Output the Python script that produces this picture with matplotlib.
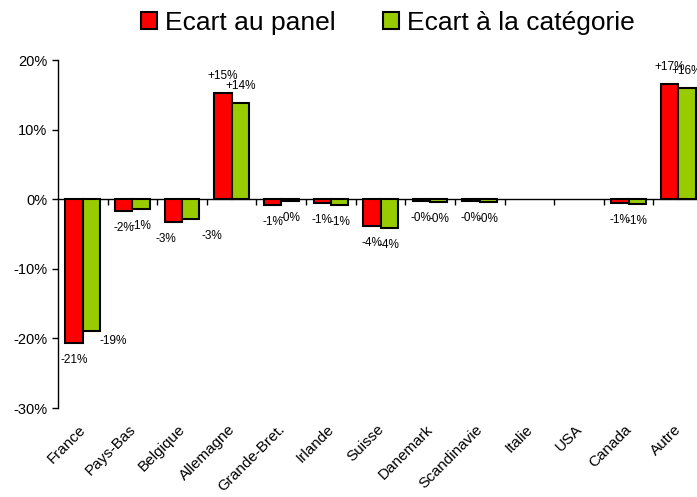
import numpy as np
import matplotlib
matplotlib.use("Agg")
import matplotlib.pyplot as plt
from matplotlib.ticker import FuncFormatter

plt.rcParams['font.family'] = ['Liberation Sans', 'DejaVu Sans']

# data (percent)
countries = ["France", "Pays-Bas", "Belgique", "Allemagne", "Grande-Bret.", "Irlande",
             "Suisse", "Danemark", "Scandinavie", "Italie", "USA", "Canada", "Autre"]
ecart_panel = [-20.7, -1.7, -3.3, 15.2, -0.8, -0.6, -3.8, -0.3, -0.3, np.nan, np.nan, -0.6, 16.6]
ecart_categorie = [-19.0, -1.4, -2.9, 13.8, -0.3, -0.8, -4.1, -0.4, -0.4, np.nan, np.nan, -0.7, 16.0]
series_names = ["Ecart au panel", "Ecart à la catégorie"]

RED = "#FF0000"
GREEN = "#99CC00"

# a few labels sit oddly in the original (pixel nudges)
label_nudge = {("France", 1): (22, 7), ("Belgique", 0): (-7, 0), ("Belgique", 1): (21, 0)}

fig = plt.figure(figsize=(6.97, 4.97), dpi=100)
ax = fig.add_axes([58 / 697, 1 - 408 / 497, 645 / 697, 348 / 497])

x = np.arange(len(countries))
w = 0.35
series = [ecart_panel, ecart_categorie]
colors = [RED, GREEN]
for k, (vals, col, name) in enumerate(zip(series, colors, series_names)):
    xs = x + (k - 0.5) * w
    ax.bar(xs, vals, width=w, color=col, edgecolor="black", linewidth=1.5, label=name, zorder=3)
    for i, v in enumerate(vals):
        if np.isnan(v):
            continue
        dx, dy = label_nudge.get((countries[i], k), (0, 0))
        off = 17 if v > 0 else -17
        ax.annotate(f"{v:+.0f}%", (xs[i], v), xytext=(dx * 0.72, (off + dy) * 0.72),
                    textcoords="offset points", ha="center", va="center", fontsize=8.5, zorder=4)

ax.set_xlim(-0.5, len(countries) - 0.5)
ax.set_ylim(-30, 20)
ax.set_yticks([20, 10, 0, -10, -20, -30])
ax.yaxis.set_major_formatter(FuncFormatter(lambda v, p: f"{v:.0f}%"))
ax.tick_params(axis="y", direction="out", length=4, labelsize=10.5, width=1)

for s in ["top", "right"]:
    ax.spines[s].set_visible(False)
ax.spines["bottom"].set_position(("data", 0))
ax.spines["left"].set_linewidth(1)
ax.spines["bottom"].set_linewidth(1)

ax.set_xticks(x + 0.5)
ax.set_xticklabels([])
ax.tick_params(axis="x", direction="out", length=4, width=1)

for i, c in enumerate(countries):
    ax.text(x[i] + 0.02, -0.055, c, transform=ax.get_xaxis_transform(), rotation=45,
            rotation_mode="anchor", ha="right", va="center", fontsize=11)

handles, labels = ax.get_legend_handles_labels()
fig.legend(handles, labels, loc="center", bbox_to_anchor=(388 / 697, 1 - 23 / 497), ncol=2,
           frameon=False, fontsize=19, handlelength=0.6, handleheight=0.6, handletextpad=0.3,
           columnspacing=1.8, borderaxespad=0)

fig.savefig("out.png", dpi=100)
